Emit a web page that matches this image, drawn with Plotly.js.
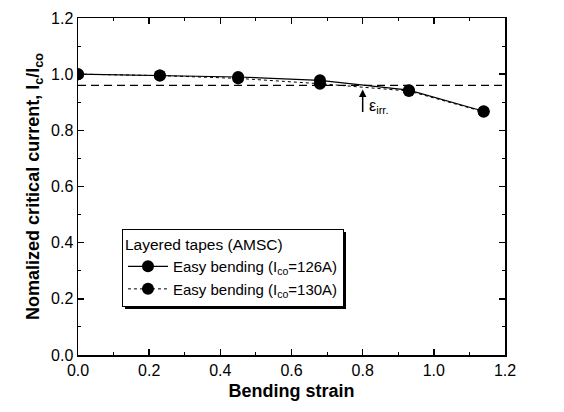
<!DOCTYPE html>
<html><head><meta charset="utf-8">
<script src="https://cdn.plot.ly/plotly-3.0.1.min.js"></script>
<style>body{margin:0;padding:0;background:#fff}#c{width:564px;height:412px;position:relative}</style>
</head><body><div id="c"></div>
<script>
const strain = [0.0, 0.23, 0.45, 0.68, 0.93, 1.14];
const ic126 = [1.0, 0.995, 0.99, 0.978, 0.943, 0.868];
const ic130 = [1.0, 0.995, 0.985, 0.966, 0.940, 0.866];
const seriesNames = ["Easy bending (I<sub>co</sub>=126A)", "Easy bending (I<sub>co</sub>=130A)"];
const legendTitle = "Layered tapes (AMSC)";
const irrLevel = 0.96;
const irrStrain = 0.8;

const F = "Arial, Liberation Sans, sans-serif";
const traces = [
  {x: strain, y: ic126, name: seriesNames[0], mode: "lines+markers",
   line: {color: "#000", width: 1.2}, marker: {color: "#000", size: 12}},
  {x: strain, y: ic130, name: seriesNames[1], mode: "lines+markers",
   line: {color: "#000", width: 1, dash: "dot"}, marker: {color: "#000", size: 12}}
];
const axCommon = {
  showgrid: false, zeroline: false, showline: true, linecolor: "#000", linewidth: 1.5,
  mirror: "ticks", ticks: "inside", ticklen: 6, tickwidth: 1.5, tickcolor: "#000",
  tickfont: {family: F, size: 16, color: "#000"},
  minor: {ticks: "inside", ticklen: 3, tickwidth: 1, tickcolor: "#000"}
};
const layout = {
  width: 564, height: 412,
  margin: {l: 78, r: 59, t: 18, b: 57},
  paper_bgcolor: "#fff", plot_bgcolor: "#fff",
  font: {family: F, color: "#000"},
  xaxis: Object.assign({}, axCommon, {range: [0, 1.2], dtick: 0.2, tickformat: ".1f",
    minor: Object.assign({}, axCommon.minor, {dtick: 0.1}),
    title: {text: "<b>Bending strain</b>", font: {family: F, size: 18}, standoff: 6}}),
  yaxis: Object.assign({}, axCommon, {range: [0, 1.2], dtick: 0.2, tickformat: ".1f",
    minor: Object.assign({}, axCommon.minor, {dtick: 0.1}),
    title: {text: "<b>Nomalized critical current, I<sub>c</sub>/I<sub>co</sub></b>", font: {family: F, size: 18}, standoff: 6}}),
  showlegend: true,
  legend: {x: 0.103, y: 0.374, xanchor: "left", yanchor: "top",
    bgcolor: "#fff", bordercolor: "#000", borderwidth: 1,
    font: {family: F, size: 15, color: "#000"},
    title: {text: legendTitle, font: {family: F, size: 15.5}},
    tracegroupgap: 0, itemwidth: 40},
  shapes: [
    {type: "line", xref: "x", yref: "y", x0: 0, x1: 1.2, y0: irrLevel, y1: irrLevel,
     line: {color: "#000", width: 1.2, dash: "8px,5px"}}
  ],
  annotations: [
    {xref: "x", yref: "y", axref: "x", ayref: "y", x: irrStrain, y: 0.945, ax: irrStrain, ay: 0.86,
     showarrow: true, arrowhead: 2, arrowsize: 1, arrowwidth: 1.5, arrowcolor: "#000", text: ""},
    {xref: "x", yref: "y", x: irrStrain + 0.012, y: 0.885, xanchor: "left", yanchor: "middle",
     showarrow: false, text: "ε<sub>irr.</sub>", font: {family: F, size: 16, color: "#000"}}
  ]
};
const gd = document.getElementById("c");
Plotly.newPlot(gd, traces, layout, {displayModeBar: false, staticPlot: true});
// legend drop shadow (decoration only)
const bg = gd.querySelector(".legend .bg");
if (bg) {
  const r = bg.getBoundingClientRect();
  const mk = (l, t, w, h) => { const d = document.createElement("div");
    d.style.cssText = "position:absolute;left:" + l + "px;top:" + t + "px;width:" + w + "px;height:" + h + "px;background:#000;pointer-events:none;z-index:10";
    document.body.appendChild(d); };
  mk(r.right, r.top + 3, 3, r.height);
  mk(r.left + 3, r.bottom, r.width, 3);
}
</script></body></html>
